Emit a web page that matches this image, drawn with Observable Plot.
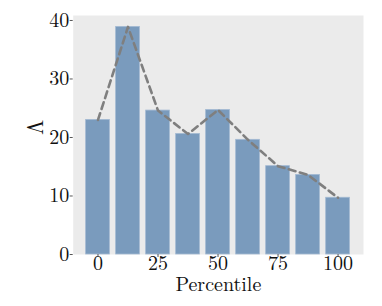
<!DOCTYPE html>
<html>
<head>
<meta charset="utf-8">
<script src="https://cdn.jsdelivr.net/npm/d3@7"></script>
<script src="https://cdn.jsdelivr.net/npm/@observablehq/plot@0.6"></script>
<style>
  html, body { margin: 0; padding: 0; background: #fff; }
</style>
</head>
<body>
<div id="chart"></div>
<script>
const percentiles = [0, 12.5, 25, 37.5, 50, 62.5, 75, 87.5, 100];
const lambdaValues = [23.0, 38.9, 24.6, 20.6, 24.7, 19.6, 15.1, 13.6, 9.7];
const xTicks = [0, 25, 50, 75, 100];
const yTicks = [0, 10, 20, 30, 40];

const data = percentiles.map((p, i) => ({p, v: lambdaValues[i]}));
const FONT = "Latin Modern Roman";

const chart = Plot.plot({
  width: 382,
  height: 306,
  marginLeft: 72.7,
  marginRight: 19,
  marginTop: 15,
  marginBottom: 52,
  style: {fontFamily: FONT, fontSize: "18px", color: "#111", background: "#fff"},
  x: {type: "linear", domain: [-10.33, 110.6]},
  y: {domain: [0, 40.85]},
  marks: [
    Plot.frame({fill: "#ebebeb", stroke: null}),
    Plot.rectY(data, {
      x1: d => d.p - 4.95, x2: d => d.p + 4.95, y1: 0, y2: "v",
      fill: "#7a9bbd", stroke: "#a4bad3", strokeWidth: 0.8
    }),
    Plot.line(data, {
      x: "p", y: "v", stroke: "#7f7f7f", strokeWidth: 2.6,
      strokeDasharray: "7,4.5"
    }),
    Plot.axisX({
      ticks: xTicks, tickSize: 3, tickPadding: -2, stroke: "#555",
      fontSize: 20, fontFamily: FONT, label: null
    }),
    Plot.axisY({
      ticks: yTicks, tickSize: 3, tickPadding: 1, stroke: "#555",
      fontSize: 20, fontFamily: FONT, label: null
    }),
    Plot.text(["Percentile"], {
      frameAnchor: "bottom", dy: 36, text: d => d, fontSize: 20,
      fontFamily: FONT, fill: "#111"
    }),
    Plot.text(["Λ"], {
      frameAnchor: "left", dx: -37, rotate: -90, text: d => d, fontSize: 22,
      fontFamily: FONT, fill: "#111"
    })
  ]
});
document.getElementById("chart").appendChild(chart);
</script>
</body>
</html>
